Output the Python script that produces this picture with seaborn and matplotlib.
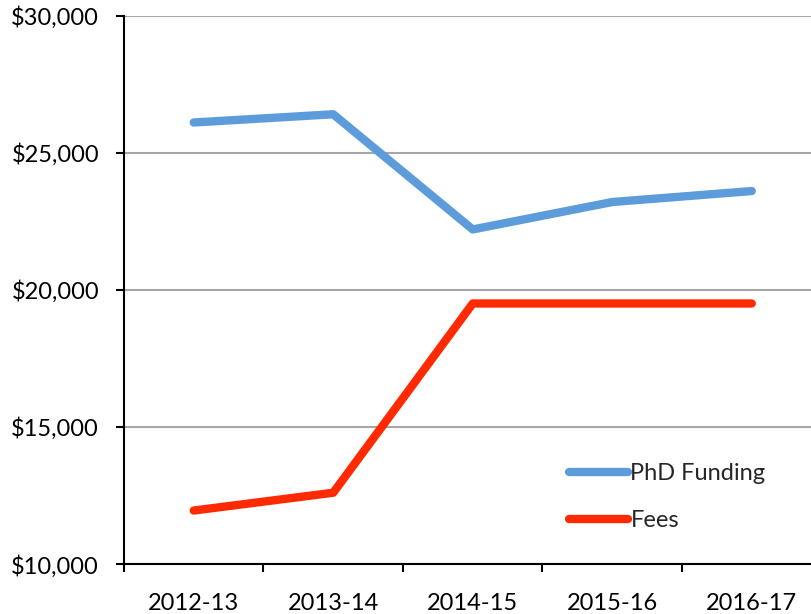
import matplotlib
matplotlib.use("Agg")
import matplotlib.pyplot as plt
import matplotlib.ticker as mticker
import seaborn as sns


YEARS = ["2012-13", "2013-14", "2014-15", "2015-16", "2016-17"]
PHD_FUNDING = [26100, 26400, 22200, 23200, 23600]
FEES = [11950, 12600, 19500, 19500, 19500]
SERIES = ["PhD Funding", "Fees"]

BLUE = "#5D9CDB"
RED = "#FF2A00"
GRID = "#A6A6A6"
FONTSIZE = 17


def main():
    sns.set_theme(style="white")
    plt.rcParams['font.family'] = ['Lato', 'DejaVu Sans']

    fig = plt.figure(figsize=(8.12, 6.14), dpi=100)
    ax = fig.add_axes([0.1527, 0.0814, 0.859, 0.8933])

    for values, color, label in zip([PHD_FUNDING, FEES], [BLUE, RED], SERIES):
        sns.lineplot(x=YEARS, y=values, ax=ax, color=color, linewidth=6,
                     label=label, solid_capstyle='round', solid_joinstyle='round')

    ax.set_ylim(10000, 30000)
    ax.set_xlim(-0.5, 4.5)
    ax.set_yticks(range(10000, 30001, 5000))
    ax.yaxis.set_major_formatter(mticker.FuncFormatter(lambda v, _: f"${v:,.0f}"))
    ax.set_xticks(range(len(YEARS)))
    ax.set_xticklabels(YEARS)
    ax.set_xticks([i - 0.5 for i in range(len(YEARS) + 1)], minor=True)

    ax.yaxis.grid(True, color=GRID, linewidth=1.5)
    ax.set_axisbelow(True)
    for side in ["top", "right"]:
        ax.spines[side].set_visible(False)
    for side in ["left", "bottom"]:
        ax.spines[side].set_color("black")
        ax.spines[side].set_linewidth(1.5)

    ax.tick_params(axis='x', which='major', length=0, pad=21,
                   labelsize=FONTSIZE, colors='black')
    ax.tick_params(axis='x', which='minor', length=6, width=1.5,
                   color='black', direction='out', bottom=True)
    ax.tick_params(axis='y', length=6, width=1.5, color='black',
                   direction='out', left=True, pad=12,
                   labelsize=FONTSIZE, labelcolor='black')

    ax.legend(loc='upper left', bbox_to_anchor=(569 / 812, 1 - 463 / 614),
              bbox_transform=fig.transFigure, frameon=False,
              fontsize=FONTSIZE, handlelength=2.5, handletextpad=0.1,
              borderpad=0, borderaxespad=0, labelspacing=1.1)

    fig.savefig("out.png", dpi=100)
    plt.close(fig)


if __name__ == "__main__":
    main()
